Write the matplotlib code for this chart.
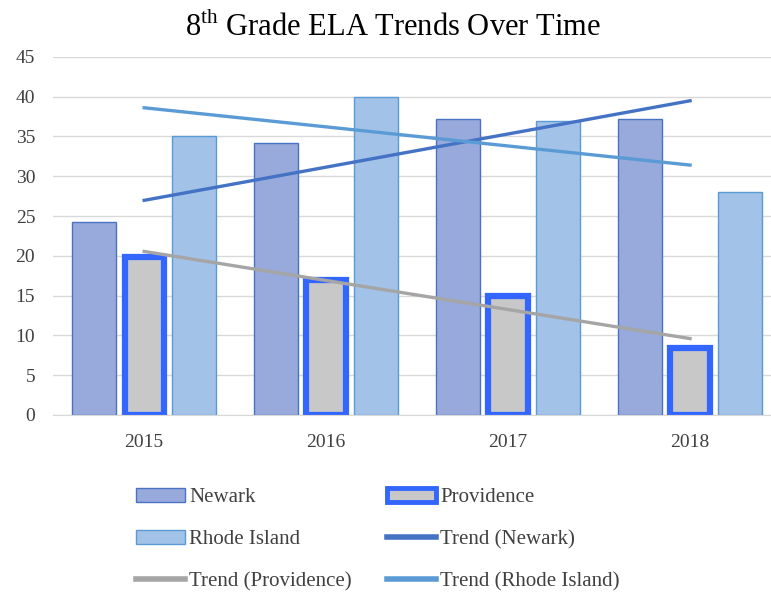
import numpy as np
import matplotlib
matplotlib.use("Agg")
import matplotlib.pyplot as plt
from matplotlib.patches import Patch
from matplotlib.lines import Line2D

plt.rcParams["font.family"] = ["Liberation Serif", "DejaVu Serif"]
plt.rcParams["mathtext.fontset"] = "custom"
plt.rcParams["mathtext.rm"] = "Liberation Serif"

# Data
years = ["2015", "2016", "2017", "2018"]
newark = [24.3, 34.2, 37.2, 37.2]
providence = [19.9, 17.0, 15.0, 8.4]
rhode_island = [35.0, 40.0, 37.0, 28.0]

x = np.arange(len(years))
w = 0.24
step = 0.275

fig = plt.figure(figsize=(7.71, 5.92), dpi=100)
ax = fig.add_axes([0.069, 0.299, 0.944, 0.605])

ax.bar(x - step, newark, w, color="#98aadb", edgecolor="#4a72c4", linewidth=1, zorder=2)
ax.bar(x, providence, w * 0.9, color="#c8c8c8", edgecolor="#3366ff", linewidth=4.5, zorder=2)
ax.bar(x + step, rhode_island, w, color="#a3c2e8", edgecolor="#5b9bd5", linewidth=1, zorder=2)

# linear trendlines (fitted to each series, like Excel)
for vals, col in [(newark, "#4472c4"), (providence, "#a5a5a5"), (rhode_island, "#5b9bd5")]:
    k, b = np.polyfit(x, vals, 1)
    ax.plot(x, k * x + b, color=col, linewidth=2.4, zorder=3)

ax.set_xlim(-0.5, 3.5)
ax.set_ylim(0, 45)
ax.set_yticks(range(0, 46, 5))
ax.set_xticks(x)
ax.set_xticklabels(years)
ax.tick_params(length=0, labelsize=14, colors="#404040")
ax.tick_params(axis="x", pad=14)
ax.tick_params(axis="y", pad=13)
ax.grid(axis="y", color="#d9d9d9", linewidth=1, zorder=0)
for s in ["top", "right", "left"]:
    ax.spines[s].set_visible(False)
ax.spines["bottom"].set_color("#d9d9d9")

fig.text(0.51, 0.953, r"8$^{\mathrm{th}}$ Grade ELA Trends Over Time",
         ha="center", va="center", fontsize=22, color="black")

handles = [
    Patch(facecolor="#98aadb", edgecolor="#4a72c4", label="Newark"),
    Patch(facecolor="#a3c2e8", edgecolor="#5b9bd5", label="Rhode Island"),
    Line2D([], [], color="#a5a5a5", linewidth=4, label="Trend (Providence)"),
    Patch(facecolor="#c8c8c8", edgecolor="#3366ff", linewidth=3.5, label="Providence"),
    Line2D([], [], color="#4472c4", linewidth=4, label="Trend (Newark)"),
    Line2D([], [], color="#5b9bd5", linewidth=4, label="Trend (Rhode Island)"),
]
fig.legend(handles=handles, ncol=2, loc="upper left", bbox_to_anchor=(0.152, 0.208),
           frameon=False, fontsize=15, handlelength=2.35, handleheight=0.7,
           handletextpad=0.2, columnspacing=1.7, labelspacing=1.08,
           labelcolor="#404040")

fig.savefig("out.png", dpi=100)
